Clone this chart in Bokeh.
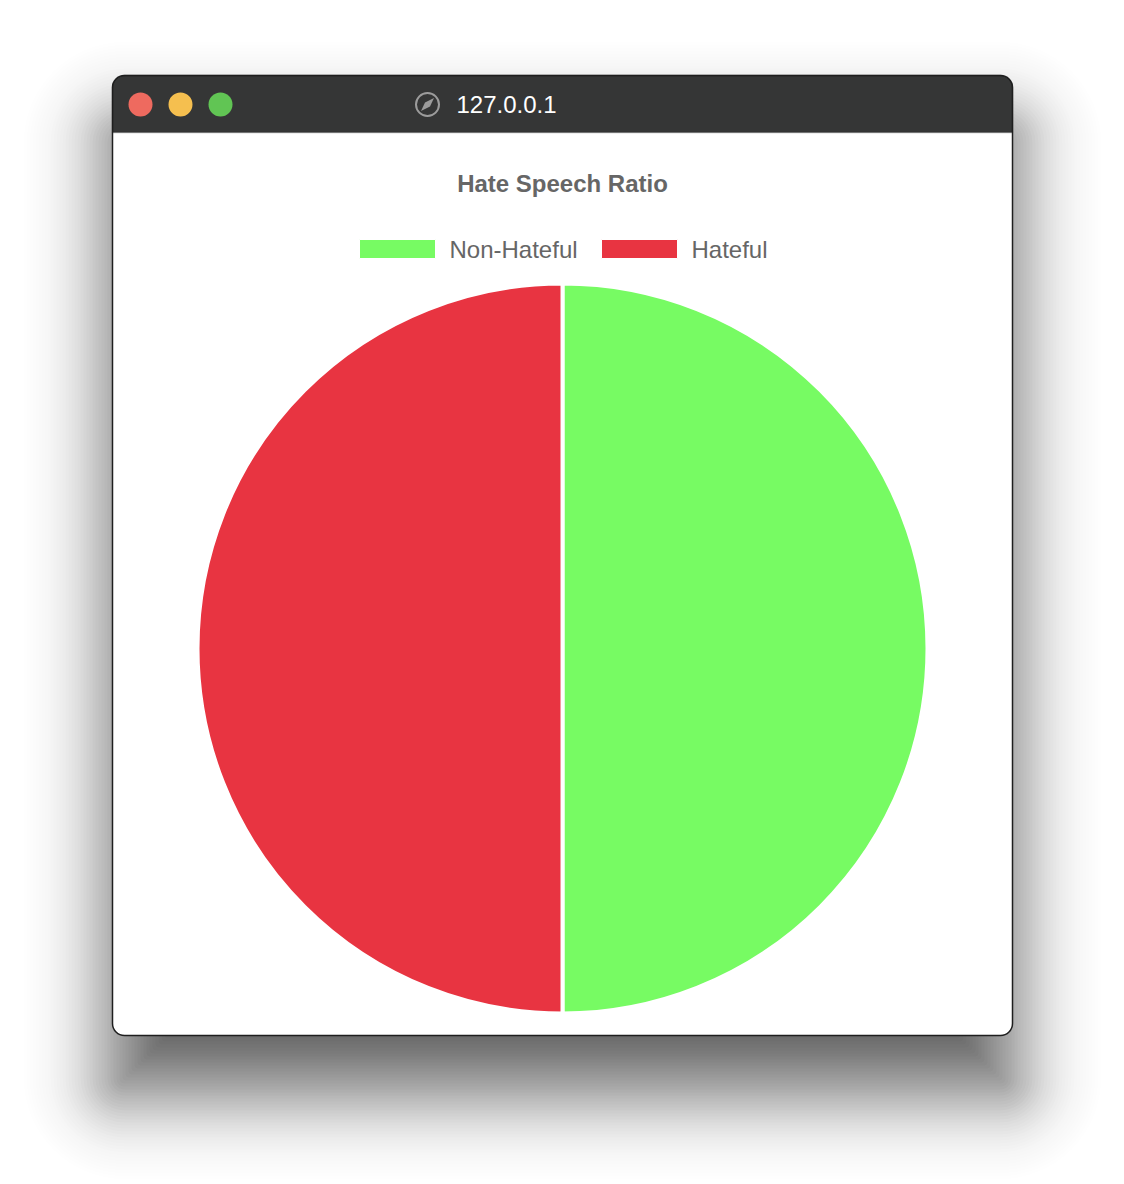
import math
from bokeh.plotting import figure
from bokeh.models import Range1d, BoxAnnotation
from bokeh.core.properties import value
from bokeh.embed import file_html
from bokeh.resources import INLINE

# ---- data ----
categories = ["Non-Hateful", "Hateful"]
counts = [50, 50]
colors = ["#77FB63", "#E83441"]
chart_title = "Hate Speech Ratio"
window_url = "127.0.0.1"

W, H = 1124, 1184


def Y(y):
    return H - y


p = figure(width=W, height=H, x_range=Range1d(0, W), y_range=Range1d(0, H),
           output_backend="svg", toolbar_location=None,
           x_axis_location=None, y_axis_location=None, min_border=0)
p.grid.visible = False
p.outline_line_color = None
p.background_fill_color = "white"
p.border_fill_color = "white"

# ---- window shadow (stacked boxes approximating a gaussian blur) ----
wl, wr, wt, wb = 112, 1012, 75, 1035
off, sigma, peak = 55, 45.0, 0.62


def target(d):
    return peak * (1 - 0.5 * (1 + math.erf(d / (sigma * math.sqrt(2)))))


t_prev = 1.0
for e in range(140, -141, -3):
    t_k = 1 - target(e)
    a_k = 1 - t_k / t_prev
    t_prev = t_k
    if a_k <= 0.0005:
        continue
    p.add_layout(BoxAnnotation(left=wl - e, right=wr + e, top=Y(wt + off - e), bottom=Y(wb + off + e),
                               fill_color="black", fill_alpha=a_k, line_color=None,
                               border_radius=max(4, 12 + e), level="underlay"))

# ---- window ----
p.add_layout(BoxAnnotation(left=wl, right=wr, top=Y(wt), bottom=Y(wb), fill_color="white",
                           fill_alpha=1, line_color=None, border_radius=12,
                           level="underlay"))
p.add_layout(BoxAnnotation(left=wl, right=wr, top=Y(wt), bottom=Y(132), fill_color="#353636",
                           fill_alpha=1, line_color="#1a1a1a", line_width=1.3,
                           border_radius=(12, 12, 0, 0), level="underlay"))
p.add_layout(BoxAnnotation(left=wl, right=wr, top=Y(wt), bottom=Y(wb), fill_alpha=0,
                           line_color="#1e1e1e", line_width=1.5, line_alpha=1, border_radius=12,
                           level="overlay"))

# traffic lights
p.circle(x=[140, 180, 220], y=[Y(104)] * 3, radius=12,
         fill_color=["#EE6A5F", "#F5BF4F", "#61C554"], line_color=None)
# compass icon
p.circle(x=[427], y=[Y(104)], radius=11.5, fill_color=None, line_color="#9c9c9c", line_width=2)
p.patch(x=[433.5, 429.5, 420.5, 424.5], y=[Y(97.5), Y(106), Y(110.5), Y(102)],
        fill_color="#9c9c9c", line_color=None)
p.text(x=[456], y=[Y(104)], text=[window_url], text_color="white",
       text_font=value("Liberation Sans"), text_font_size="24px",
       text_align="left", text_baseline="middle")

# ---- chart title ----
p.text(x=[562], y=[Y(183)], text=[chart_title], text_color="#666666",
       text_font=value("Liberation Sans"), text_font_size="24px", text_font_style="bold",
       text_align="center", text_baseline="middle")

# ---- legend ----
legend_left = [359, 601]
for i, (cat, col) in enumerate(zip(categories, colors)):
    x0 = legend_left[i]
    p.quad(left=[x0], right=[x0 + 76], top=[Y(239)], bottom=[Y(258)],
           fill_color=col, line_color="white", line_width=1)
    p.text(x=[x0 + 90], y=[Y(249)], text=[cat], text_color="#666666",
           text_font=value("Liberation Sans"), text_font_size="24px",
           text_align="left", text_baseline="middle")

# ---- pie ----
total = sum(counts)
starts, ends = [], []
a = math.pi / 2
for c in counts:
    starts.append(a)
    a -= 2 * math.pi * c / total
    ends.append(a)

p.wedge(x=562, y=Y(648), radius=365, start_angle=starts, end_angle=ends,
        direction="clock", fill_color=colors, line_color="white", line_width=4)

open("out.html", "w").write(file_html(p, INLINE))
